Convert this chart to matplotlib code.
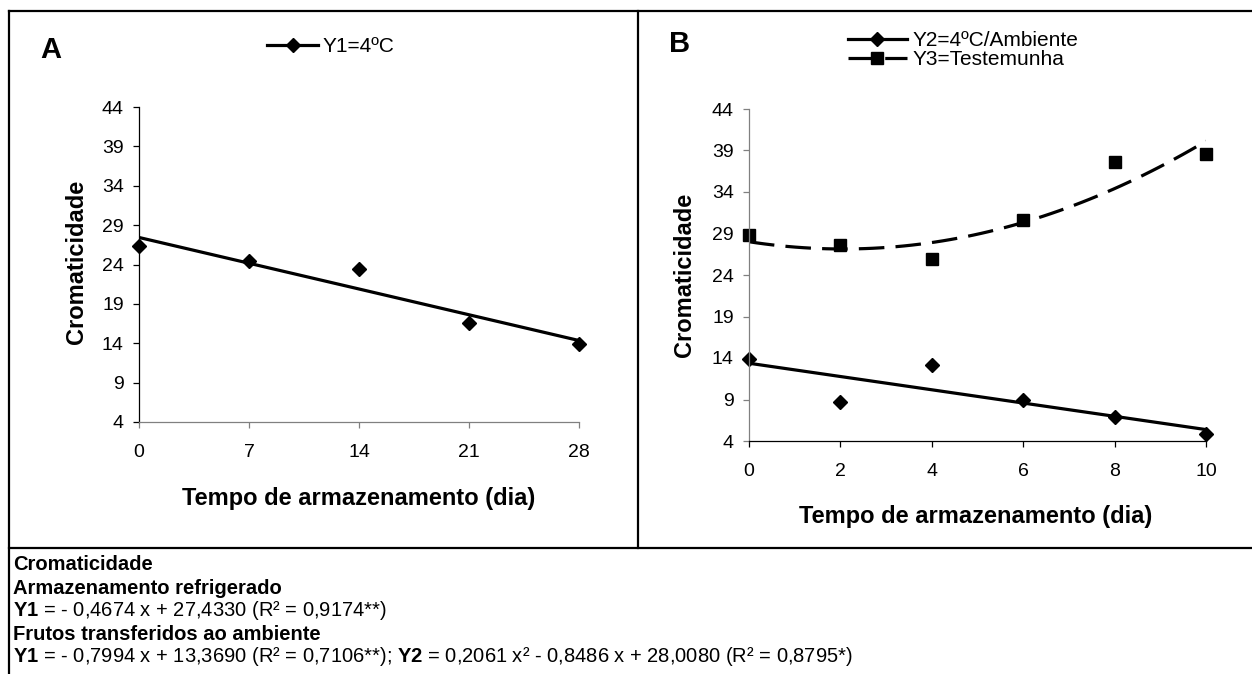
import numpy as np
import matplotlib.pyplot as plt
from matplotlib.lines import Line2D
from matplotlib.legend_handler import HandlerLine2D

plt.rcParams['font.family'] = ['Liberation Sans', 'DejaVu Sans']
plt.rcParams['mathtext.fontset'] = 'custom'
plt.rcParams['mathtext.rm'] = 'Liberation Sans'
plt.rcParams['mathtext.bf'] = 'Liberation Sans:bold'

# Data
dias_a = [0, 7, 14, 21, 28]
y1_a = [26.4, 24.5, 23.4, 16.6, 13.9]
coef_y1_a = [-0.4674, 27.4330]

dias_b = [0, 2, 4, 6, 8, 10]
y2_b = [13.9, 8.7, 13.2, 9.0, 6.9, 4.8]
y3_b = [28.8, 27.6, 25.9, 30.6, 37.6, 38.6]
coef_y2_b = [-0.7994, 13.3690]
coef_y3_b = [0.2061, -0.8486, 28.0080]

yticks = [4, 9, 14, 19, 24, 29, 34, 39, 44]
xticks_a = [0, 7, 14, 21, 28]
xticks_b = [0, 2, 4, 6, 8, 10]

# (text, bold?) for the caption below the panels
caption = [
    ("Cromaticidade", True),
    ("Armazenamento refrigerado", True),
    (r"$\mathbf{Y1}$ = - 0,4674 x + 27,4330 (R² = 0,9174**)", False),
    ("Frutos transferidos ao ambiente", True),
    (r"$\mathbf{Y1}$ = - 0,7994 x + 13,3690 (R² = 0,7106**); "
     r"$\mathbf{Y2}$ = 0,2061 x² - 0,8486 x + 28,0080 (R² = 0,8795*)", False),
]

W, H = 1252, 674
GRAY = '#808080'
fig = plt.figure(figsize=(W / 100, H / 100), dpi=100)


def fx(px):
    return px / W


def fy(py):
    return 1 - py / H


def add_axes_px(left, top, right, bottom):
    return fig.add_axes([fx(left), fy(bottom), fx(right - left), (bottom - top) / H])


class EndMarker(HandlerLine2D):
    # put the legend marker at the right end of the line, like Excel does
    def get_xdata(self, legend, xdescent, ydescent, width, height, fontsize):
        xdata, _ = super().get_xdata(legend, xdescent, ydescent, width, height, fontsize)
        return xdata, np.array([xdata[-1]])


def style_axes(ax, left_color, bottom_color, xticks):
    for s in ['top', 'right']:
        ax.spines[s].set_visible(False)
    ax.spines['left'].set_color(left_color)
    ax.spines['bottom'].set_color(bottom_color)
    ax.spines['left'].set_linewidth(0.9)
    ax.spines['bottom'].set_linewidth(0.9)
    ax.set_yticks(yticks)
    ax.set_xticks(xticks)
    ax.tick_params(axis='y', direction='out', length=4, width=0.9, color=left_color,
                   labelsize=14, pad=7)
    ax.tick_params(axis='x', direction='out', length=4, width=0.9, color=bottom_color,
                   labelsize=14, pad=12)


LW = 2.3
DASH = (0, (8, 3.5))

# ---- panel A
axA = add_axes_px(139, 107, 579, 422)
xa = np.linspace(0, 28, 60)
axA.plot(xa, np.polyval(coef_y1_a, xa), color='black', lw=LW, solid_capstyle='butt')
axA.plot(dias_a, y1_a, 'D', color='black', ms=7, clip_on=False)
axA.set_xlim(0, 28)
axA.set_ylim(4, 44)
style_axes(axA, 'black', GRAY, xticks_a)
axA.set_xlabel('Tempo de armazenamento (dia)', fontsize=17, fontweight='bold', va='center')
axA.xaxis.set_label_coords(fx(359), fy(498), transform=fig.transFigure)
axA.set_ylabel('Cromaticidade', fontsize=17, fontweight='bold', va='center', ha='center')
axA.yaxis.set_label_coords(fx(76), fy(262), transform=fig.transFigure)

hA = Line2D([], [], color='black', lw=LW, marker='D', ms=7)
axA.legend([hA], ['Y1=4ºC'], loc='center left', bbox_to_anchor=(fx(267), fy(47)),
           bbox_transform=fig.transFigure, frameon=False, fontsize=15, borderpad=0,
           borderaxespad=0, handlelength=2.45, handletextpad=0.2, numpoints=1,
           handler_map={Line2D: EndMarker()})

# ---- panel B
axB = add_axes_px(749, 109, 1206, 441)
xb = np.linspace(0, 10, 60)
axB.plot(xb, np.polyval(coef_y2_b, xb), color='black', lw=LW, solid_capstyle='butt')
axB.plot(xb, np.polyval(coef_y3_b, xb), color='black', lw=LW, linestyle=DASH)
axB.plot(dias_b, y2_b, 'D', color='black', ms=7, clip_on=False)
axB.plot(dias_b, y3_b, 's', color='black', ms=8.5, clip_on=False)
axB.set_xlim(0, 10)
axB.set_ylim(4, 44)
style_axes(axB, GRAY, 'black', xticks_b)
axB.set_xlabel('Tempo de armazenamento (dia)', fontsize=17, fontweight='bold', va='center')
axB.xaxis.set_label_coords(fx(976), fy(516), transform=fig.transFigure)
axB.set_ylabel('Cromaticidade', fontsize=17, fontweight='bold', va='center', ha='center')
axB.yaxis.set_label_coords(fx(684), fy(275), transform=fig.transFigure)

hB1 = Line2D([], [], color='black', lw=LW, marker='D', ms=7)
hB2 = Line2D([], [], color='black', lw=LW, linestyle=DASH, marker='s', ms=8.5)
axB.legend([hB1, hB2], ['Y2=4ºC/Ambiente', 'Y3=Testemunha'], loc='center left',
           bbox_to_anchor=(fx(848), fy(50)), bbox_transform=fig.transFigure,
           frameon=False, fontsize=15, borderpad=0, borderaxespad=0,
           handlelength=2.83, handletextpad=0.29, labelspacing=0.0, numpoints=1,
           handler_map={Line2D: EndMarker()})

# panel letters
fig.text(fx(51), fy(50), 'A', fontsize=21, fontweight='bold', ha='center', va='center')
fig.text(fx(680), fy(44), 'B', fontsize=21, fontweight='bold', ha='center', va='center')

# table-like frame
frame = dict(transform=fig.transFigure, color='black', lw=1.6)
fig.add_artist(Line2D([fx(9), 1], [fy(11), fy(11)], **frame))
fig.add_artist(Line2D([fx(9), fx(9)], [fy(11), 0], **frame))
fig.add_artist(Line2D([fx(638), fx(638)], [fy(11), fy(548)], **frame))
fig.add_artist(Line2D([fx(9), 1], [fy(548), fy(548)], **frame))

# caption with the regression equations
for i, (line, bold) in enumerate(caption):
    fig.text(fx(13), fy(565 + 23 * i), line, fontsize=14.5, ha='left', va='center',
             fontweight='bold' if bold else 'normal')

fig.savefig('out.png', dpi=100)
